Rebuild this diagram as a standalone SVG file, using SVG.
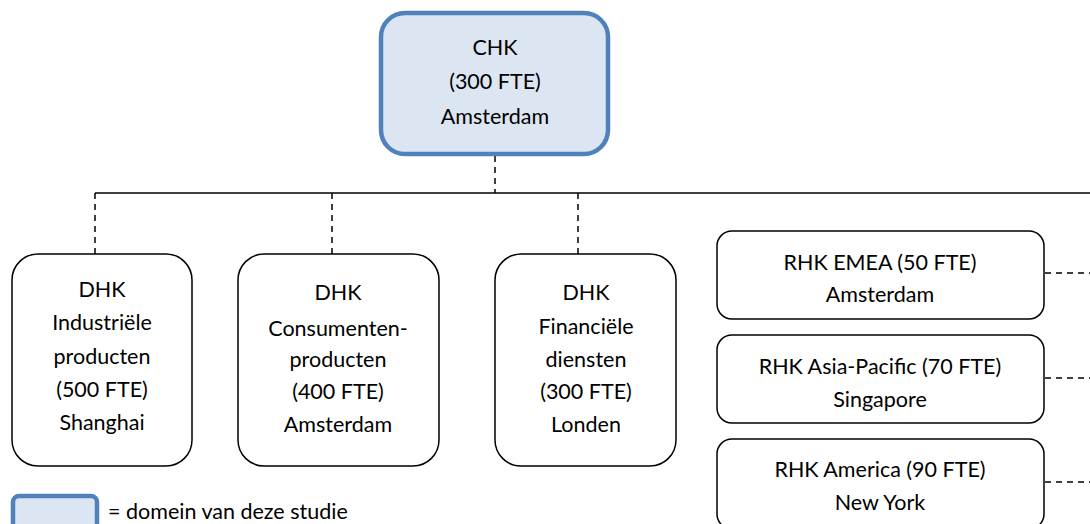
<svg xmlns="http://www.w3.org/2000/svg" width="1090" height="524" viewBox="0 0 1090 524">
  <style>
    text { font-family: Lato, "Open Sans", "Liberation Sans", sans-serif; font-size: 21.5px; fill: #000; text-anchor: middle; }
    .legend { text-anchor: start; }
    .box { fill: #fff; stroke: #000; stroke-width: 1.5; }
    .focus { fill: #dce6f2; stroke: #4f81bd; stroke-width: 4.5; }
    .solid { stroke: #000; stroke-width: 1.5; fill: none; }
    .dash { stroke: #000; stroke-width: 1.5; fill: none; stroke-dasharray: 6 5; }
  </style>
  <rect width="1090" height="524" fill="#fff"/>

  <!-- connectors -->
  <g id="connectors">
    <line class="dash" x1="495" y1="156" x2="495" y2="193"/>
    <line class="solid" x1="95" y1="193" x2="1090" y2="193"/>
    <line class="dash" x1="95" y1="193" x2="95" y2="254"/>
    <line class="dash" x1="332" y1="193" x2="332" y2="254"/>
    <line class="dash" x1="578" y1="193" x2="578" y2="254"/>
    <line class="dash" x1="1045" y1="273" x2="1090" y2="273"/>
    <line class="dash" x1="1045" y1="378" x2="1090" y2="378"/>
    <line class="dash" x1="1045" y1="482" x2="1090" y2="482"/>
  </g>

  <!-- head office -->
  <g id="chk">
    <rect class="focus" x="381" y="13" width="227" height="141" rx="24"/>
    <text x="495" y="55">CHK</text>
    <text x="495" y="89">(300 FTE)</text>
    <text x="495" y="124">Amsterdam</text>
  </g>

  <!-- divisions -->
  <g id="dhk-industrie">
    <rect class="box" x="12" y="254" width="180" height="212" rx="26"/>
    <text x="102" y="297">DHK</text>
    <text x="102" y="330">Industriële</text>
    <text x="102" y="364">producten</text>
    <text x="102" y="397">(500 FTE)</text>
    <text x="102" y="430">Shanghai</text>
  </g>
  <g id="dhk-consumenten">
    <rect class="box" x="238" y="254" width="201" height="212" rx="26"/>
    <text x="338" y="300">DHK</text>
    <text x="338" y="336">Consumenten-</text>
    <text x="338" y="367">producten</text>
    <text x="338" y="399">(400 FTE)</text>
    <text x="338" y="432">Amsterdam</text>
  </g>
  <g id="dhk-financieel">
    <rect class="box" x="495" y="254" width="181" height="212" rx="26"/>
    <text x="586" y="300">DHK</text>
    <text x="586" y="334">Financiële</text>
    <text x="586" y="367">diensten</text>
    <text x="586" y="399">(300 FTE)</text>
    <text x="586" y="432">Londen</text>
  </g>

  <!-- regional offices -->
  <g id="rhk-emea">
    <rect class="box" x="717" y="231" width="327" height="88" rx="15"/>
    <text x="880" y="270">RHK EMEA (50 FTE)</text>
    <text x="880" y="302">Amsterdam</text>
  </g>
  <g id="rhk-apac">
    <rect class="box" x="717" y="335" width="327" height="88" rx="15"/>
    <text x="880" y="374">RHK Asia-Pacific (70 FTE)</text>
    <text x="880" y="407">Singapore</text>
  </g>
  <g id="rhk-america">
    <rect class="box" x="717" y="439" width="327" height="90" rx="15"/>
    <text x="880" y="477">RHK America (90 FTE)</text>
    <text x="880" y="510">New York</text>
  </g>

  <!-- legend -->
  <g id="legend">
    <rect class="focus" x="13" y="496" width="84" height="40" rx="6" stroke-width="3.5"/>
    <text class="legend" x="108" y="519">= domein van deze studie</text>
  </g>
</svg>
